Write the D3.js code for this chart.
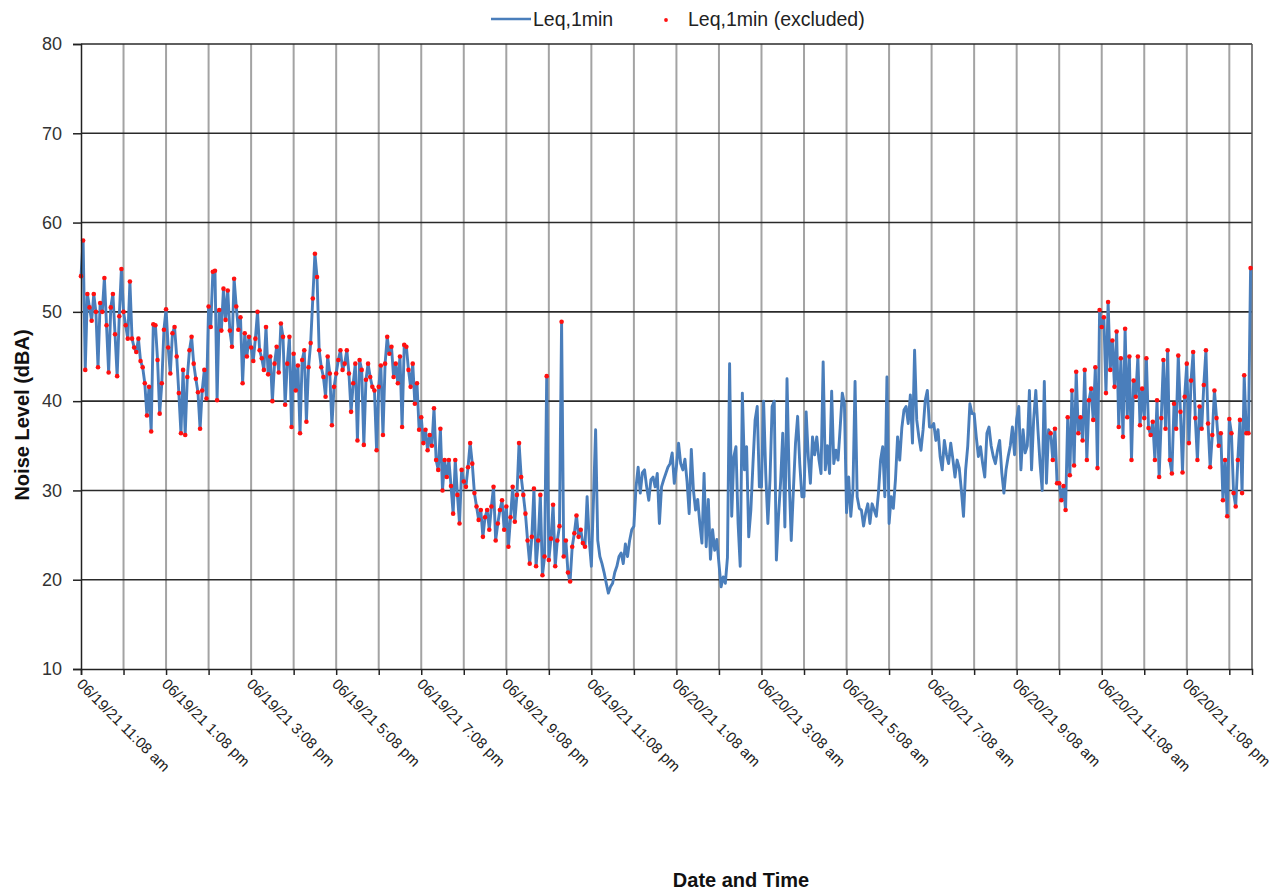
<!DOCTYPE html>
<html><head><meta charset="utf-8">
<script src="https://cdn.jsdelivr.net/npm/d3@7"></script>
<style>body{margin:0;background:#fff;} svg{display:block;font-family:"Liberation Sans",Arial,sans-serif;}</style>
</head><body><svg id="c" width="1280" height="892"></svg>
<script>
// ---- data ----
const seriesNames = ["Leq,1min", "Leq,1min (excluded)"];
const tickLabels = ["06/19/21 11:08 am","06/19/21 1:08 pm","06/19/21 3:08 pm","06/19/21 5:08 pm",
  "06/19/21 7:08 pm","06/19/21 9:08 pm","06/19/21 11:08 pm","06/20/21 1:08 am","06/20/21 3:08 am",
  "06/20/21 5:08 am","06/20/21 7:08 am","06/20/21 9:08 am","06/20/21 11:08 am","06/20/21 1:08 pm"];
const yTicks = [10, 20, 30, 40, 50, 60, 70, 80];
const stepMinutes = 3; // sample spacing, minutes after 06/19/21 11:08 am
const leq = [
 54,58,43.5,52,50.5,49,52,50,43.8,51,50,53.8,48.5,43.2,50.5,52,47.5,42.8,49.5,54.8,
 50,48.5,47,53.4,47,46,45.5,47,44.5,43.8,42,38.4,41.6,36.6,48.6,48.5,44.6,38.6,42,48,
 50.3,46,43.1,47.6,48.3,45,40.9,36.4,43.5,36.2,42.7,45.7,47.2,44.2,42.5,41,36.9,41.2,43.5,40.3,
 50.6,48.3,54.5,54.6,40.1,50.2,47.9,52.6,49.1,52.4,47.9,46.1,53.7,50.6,48,49.4,42,47.6,45,47.2,
 46,44.5,47,50,45.7,44.8,43.5,48.3,43,45,40,44.2,46.1,43.2,48.7,47.2,39.6,44.2,47.2,37.1,
 45.3,41.2,44,36.4,44.6,45.7,37.7,43.8,46.5,51.5,56.5,53.9,45.7,43.8,42.7,40.5,45,43.1,37.3,41.6,
 43.1,44.6,45.7,43.5,44.2,45.7,43.1,38.8,42,44.2,35.6,44.6,43.5,35.1,42.4,44.2,42.7,41.6,41.2,34.5,
 41.6,44,36.2,44.2,47.2,45.3,46.1,42.7,44.2,42,45,37.1,46.3,46.1,43.5,41.6,44.2,39.7,42,36.8,
 38.2,35.3,36.8,34.5,36.2,35,39.2,33.4,32.3,36.9,30,33.4,31.5,33.4,30.5,27.4,33.4,29.5,26.3,32.3,
 31,30.4,32.6,35.3,33,29.7,28.2,26.7,27.8,24.8,27,27.8,25.6,28.2,30.4,24.4,26.3,27.8,28.9,25.6,
 28.2,23.7,27,30.4,26.5,29.5,35.3,31.5,29.5,27.4,24.4,21.8,24.8,30.2,21.5,24.4,29.5,20.5,22.6,42.8,
 22.2,24.6,28.4,21.5,24.4,26,48.9,22.6,24.4,20.8,19.8,23.7,25.2,27.2,24.8,25.6,24.1,23.7,29.3,24.4,
 21.5,29,36.8,24.4,22.6,21.8,20.8,19.6,18.5,19.2,19.6,20.8,21.5,22.6,23,21.8,24,22.6,24.4,25.6,
 26,30.4,32.6,29.7,32,32.3,30.4,28.9,31.2,31.5,30.4,31.9,26.3,30.4,31.2,31.9,32.6,33,34.2,30.8,
 32.7,35.3,33,32.3,33.5,31,27.4,34.6,30,27.8,29,26.3,24.1,31.9,23.7,29,22.3,25.6,23.3,24.5,
 21.8,19.2,20.3,19.6,22.5,44.2,27.1,33.8,34.9,26.3,21.5,40.9,32.3,34.9,24.8,27.8,33,37.9,39.4,30.4,
 30.4,40,31.9,26.3,31.2,39.4,40,22.2,27.1,31,36.4,25.9,42.5,31.5,24.4,30,35.3,38.3,33,29.3,
 29.3,38.8,33.8,30.8,36,34,36,33.5,31.9,44.4,32.3,35,31.9,41.1,33,34.5,33.4,37,40.9,39.7,
 27.5,31.5,27.1,30,42.2,29.3,28,27.8,26,27.5,28.5,26.3,28.5,27.8,27.1,29.7,33.4,34.9,29.3,42.7,
 26.3,29.3,28,31.2,36,33.4,37,39,39.4,37.5,40.7,35.3,45.7,37.9,36,34.5,36.8,40.1,41.2,37.1,
 37.1,37.5,35.6,36.8,33.8,32.3,35.6,34,33,35.3,33.5,31.5,33.4,32.5,30,27.1,32.3,35,39.7,38.6,
 38.6,36,33.8,34.9,33,31.5,36.4,37.1,35,33.8,33,34.5,35.6,32,29.7,32.3,33.8,35,37.1,34,
 38,39.4,32.3,36.8,34.2,35,41.2,32.3,38,41.2,36.8,33,30,42.2,30.8,36.8,36.4,33.4,36.9,30.8,
 30.8,28.9,30.5,27.8,38.2,31.7,41.2,32.8,43.3,36.4,38.2,35.6,43.5,33.4,40.1,41.4,37.9,43.8,32.5,50.2,
 48.3,49.4,40.9,51.1,43.5,46.8,41.6,47.8,37.1,44.8,36,48.1,38.2,45,33.4,42.3,40.5,45,37.3,41.4,
 38.1,44.8,37,36.2,37.7,33.4,40.1,31.5,38.1,44.6,36.9,45.7,33.4,31.9,39.7,36.9,45.1,38.8,32,40.5,
 44.2,35.3,42.3,45.5,38.1,33.4,39.4,36.9,41.8,45.7,37.5,32.6,36.2,41.2,38.1,35,36.4,28.9,33.4,27.1,
 38,36.4,29.7,28.2,33.4,37.9,29.7,42.9,36.4,36.4,54.9
];
const excludedFrom = [0, 1368];   // minutes
const excludedTo = [711, 1650];

// ---- chart ----
(function () {
const svg = d3.select("#c");
const pL = 81, pR = 1252, pT = 44, pB = 669;
const x = d3.scaleLinear().domain([0, 1652]).range([pL, pR]);
const y = d3.scaleLinear().domain([10, 80]).range([pB, pT]);

const pts = leq.map((v, i) => ({m: i * stepMinutes, v}));
const isExcluded = d => excludedFrom.some((f, k) => d.m >= f && d.m <= excludedTo[k]);

const hourTicks = d3.range(0, 28).map(h => h * 60);

// vertical grid
svg.append("g").selectAll("line").data(hourTicks.filter(t => t > 0)).join("line")
  .attr("x1", d => x(d)).attr("x2", d => x(d)).attr("y1", pT).attr("y2", pB)
  .attr("stroke", "#a3a3a3").attr("stroke-width", 2);
// horizontal grid
svg.append("g").selectAll("line").data(yTicks.filter(t => t > 10)).join("line")
  .attr("x1", pL).attr("x2", pR).attr("y1", d => y(d)).attr("y2", d => y(d))
  .attr("stroke", "#2a2a2a").attr("stroke-width", 1.6);
// right border
svg.append("line").attr("x1", pR).attr("x2", pR).attr("y1", pT).attr("y2", pB)
  .attr("stroke", "#555").attr("stroke-width", 1.5);

// series line
svg.append("path").datum(pts)
  .attr("d", d3.line().x(d => x(d.m)).y(d => y(d.v)))
  .attr("fill", "none").attr("stroke", "#4a7ebb").attr("stroke-width", 2.9)
  .attr("stroke-linejoin", "round");
// excluded dots
svg.append("g").selectAll("circle").data(pts.filter(isExcluded)).join("circle")
  .attr("cx", d => x(d.m)).attr("cy", d => y(d.v)).attr("r", 2.3).attr("fill", "#ff1010");

// axes
const yAxis = d3.axisLeft(y).tickValues(yTicks).tickSize(8).tickFormat(d3.format("d"));
const gy = svg.append("g").attr("transform", `translate(${pL},0)`).call(yAxis);
gy.select(".domain").attr("stroke", "#222").attr("stroke-width", 1.5);
gy.selectAll(".tick line").attr("stroke", "#222").attr("stroke-width", 1.5);
gy.selectAll(".tick text").attr("font-size", 18).attr("fill", "#333").attr("x", -19)
  .attr("font-family", "Liberation Sans, Arial, sans-serif");

const xAxis = d3.axisBottom(x).tickValues(hourTicks).tickSize(6).tickFormat("");
const gx = svg.append("g").attr("transform", `translate(0,${pB})`).call(xAxis);
gx.select(".domain").attr("stroke", "#222").attr("stroke-width", 1.5);
gx.selectAll(".tick line").attr("stroke", "#222").attr("stroke-width", 1.5);

svg.append("g").selectAll("text").data(tickLabels).join("text")
  .attr("transform", (d, i) => `translate(${x(i * 120) - 5},${pB + 16}) rotate(45)`)
  .attr("font-size", 15).attr("fill", "#222").text(d => d);

// titles
svg.append("text").attr("transform", `translate(29,415) rotate(-90)`)
  .attr("text-anchor", "middle").attr("font-size", 20).attr("font-weight", "bold")
  .attr("fill", "#111").text("Noise Level (dBA)");
svg.append("text").attr("x", 741).attr("y", 887).attr("text-anchor", "middle")
  .attr("font-size", 20).attr("font-weight", "bold").attr("fill", "#111").text("Date and Time");

// legend
const lg = svg.append("g");
lg.append("line").attr("x1", 491).attr("x2", 531).attr("y1", 19).attr("y2", 19)
  .attr("stroke", "#4a7ebb").attr("stroke-width", 2.6);
lg.append("text").attr("x", 533).attr("y", 26).attr("font-size", 19.5).attr("fill", "#222").text(seriesNames[0]);
lg.append("circle").attr("cx", 666).attr("cy", 20).attr("r", 1.9).attr("fill", "#ff1010");
lg.append("text").attr("x", 688).attr("y", 26).attr("font-size", 19.5).attr("fill", "#222").text(seriesNames[1]);
})();
</script></body></html>
